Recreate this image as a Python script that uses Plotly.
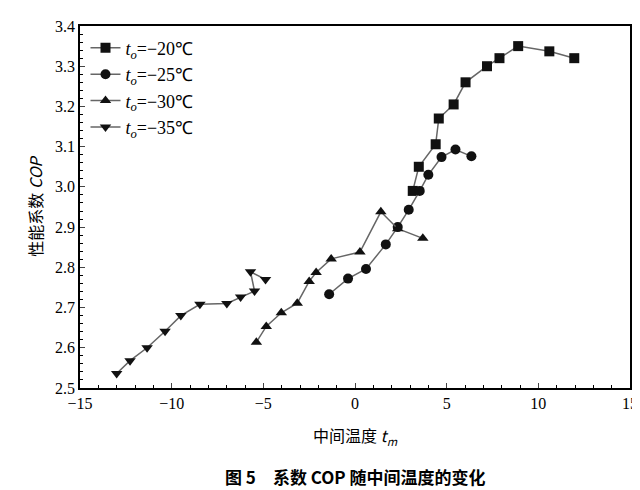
import plotly.graph_objects as go

# series
x_20 = [3.15, 3.48, 4.4, 4.57, 5.38, 6.03, 7.2, 7.88, 8.9, 10.6, 11.96]
y_20 = [2.99, 3.05, 3.106, 3.17, 3.205, 3.26, 3.30, 3.32, 3.35, 3.337, 3.32]

x_25 = [-1.41, -0.38, 0.6, 1.68, 2.33, 2.93, 3.53, 4.0, 4.72, 5.48, 6.35]
y_25 = [2.733, 2.772, 2.796, 2.857, 2.90, 2.943, 2.99, 3.03, 3.074, 3.093, 3.076]

x_30 = [-5.38, -4.84, -4.02, -3.15, -2.5, -2.12, -1.3, 0.27, 1.41, 2.33, 3.7]
y_30 = [2.614, 2.653, 2.687, 2.711, 2.765, 2.787, 2.821, 2.838, 2.938, 2.896, 2.872]

x_35 = [-13.0, -12.27, -11.34, -10.36, -9.5, -8.46, -6.99, -6.24, -5.48, -5.7, -4.88]
y_35 = [2.536, 2.568, 2.6, 2.641, 2.68, 2.708, 2.71, 2.726, 2.741, 2.789, 2.77]

labels = ["<i>t<sub>o</sub></i>=\u221220\u2103", "<i>t<sub>o</sub></i>=\u221225\u2103",
          "<i>t<sub>o</sub></i>=\u221230\u2103", "<i>t<sub>o</sub></i>=\u221235\u2103"]
symbols = ["square", "circle", "triangle-up", "triangle-down"]

fig = go.Figure()
for xs, ys, lab, sym in zip([x_20, x_25, x_30, x_35], [y_20, y_25, y_30, y_35], labels, symbols):
    fig.add_trace(go.Scatter(x=xs, y=ys, mode="lines+markers", name=lab,
                             line=dict(color="#666666", width=1.5),
                             marker=dict(symbol=sym, size=10, color="#111111")))

serif = "Liberation Serif"
cjk = "Noto Sans CJK SC"
axis = dict(showline=True, linecolor="black", linewidth=1.5, mirror=True,
            ticks="inside", ticklen=5, showgrid=False, zeroline=False,
            tickfont=dict(family=serif, size=16, color="black"),
            minor=dict(ticks="inside", ticklen=3, tickcolor="black"))

fig.update_layout(
    width=640, height=490, plot_bgcolor="white", paper_bgcolor="white",
    margin=dict(l=72, r=18, t=10, b=110),
    font=dict(family=serif, color="black"),
    legend=dict(x=0.01, y=0.99, xanchor="left", yanchor="top", tracegroupgap=4,
                font=dict(family=serif, size=18), bgcolor="rgba(0,0,0,0)"),
    xaxis=dict(axis, range=[-15, 15], dtick=5,
               title=dict(text="中间温度 <i>t<sub>m</sub></i>", font=dict(family=cjk, size=16), standoff=20)),
    yaxis=dict(axis, range=[2.5, 3.4], dtick=0.1, tickformat=".1f",
               title=dict(text="性能系数 <i>COP</i>", font=dict(family=cjk, size=16), standoff=8)),
)
fig.add_annotation(text="<b>图 5　系数 COP 随中间温度的变化</b>", xref="paper", yref="paper",
                   x=0.5, y=-0.245, xanchor="center", yanchor="middle", showarrow=False,
                   font=dict(family=cjk, size=17, color="black"))

fig.write_html("out.html")
